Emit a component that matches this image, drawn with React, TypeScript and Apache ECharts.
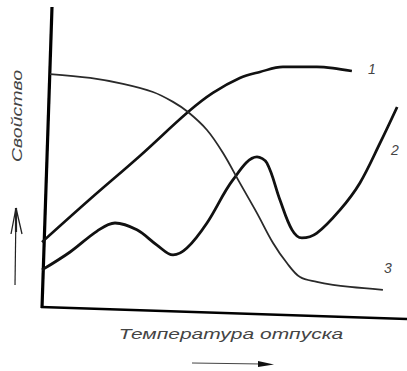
import React, { useEffect, useRef } from "react";
import * as echarts from "echarts";

// Qualitative chart: property vs. tempering temperature (arbitrary units 0..100)
const curve1X = [0, 13.2, 26.8, 40, 46.8, 54.2, 59.7, 66, 75.3, 79.7, 84.9];
const curve1Y = [21.7, 36.1, 50.5, 65.2, 71.6, 76.6, 78.6, 80.3, 80.3, 79.9, 78.9];

const curve2X = [0, 7.7, 15.1, 20, 26, 31.5, 35.9, 39.7, 45.2, 52.3, 58.9, 61.6, 65.2, 68.5, 71.2, 75.3, 81.6, 87.1, 92.6, 97.3];
const curve2Y = [12.4, 18.4, 25.4, 28.1, 25.8, 20.7, 17.4, 19.7, 28.1, 42.5, 50.2, 48.2, 35.8, 25.8, 23.1, 24.7, 32.4, 41.5, 54.8, 66.9];

const curve3X = [2.2, 13.2, 22.2, 30.4, 35.9, 40, 45.2, 49.6, 54.2, 58.9, 63.3, 67.1, 70.7, 75.3, 79.7, 84.4, 93.4];
const curve3Y = [77.9, 76.6, 74.6, 71.9, 68.6, 65.2, 59.2, 51.5, 41.5, 31.4, 21.4, 14.7, 10, 8.4, 7.4, 6.7, 5.7];

const curveLabels = ["1", "2", "3"];
const xTitle = "Температура отпуска";
const yTitle = "Свойство";

const zip = (xs: number[], ys: number[]) => xs.map((x, i) => [x, ys[i]]);

export default function App() {
  const ref = useRef<HTMLDivElement>(null);
  useEffect(() => {
    if (!ref.current) return;
    const chart = echarts.init(ref.current, undefined, { renderer: "svg" });
    const font = "'Liberation Sans', Arial, sans-serif";
    const textGray = "#444444";
    chart.setOption({
      animation: false,
      backgroundColor: "#ffffff",
      grid: { left: 42, top: 8, width: 365, height: 299 },
      xAxis: { type: "value", min: 0, max: 100, show: false },
      yAxis: { type: "value", min: 0, max: 100, show: false },
      series: [
        {
          type: "line",
          data: zip(curve1X, curve1Y),
          smooth: 0.35,
          symbol: "none",
          lineStyle: { color: "#111", width: 2.6 },
        },
        {
          type: "line",
          data: zip(curve2X, curve2Y),
          smooth: 0.35,
          symbol: "none",
          lineStyle: { color: "#111", width: 2.8 },
        },
        {
          type: "line",
          data: zip(curve3X, curve3Y),
          smooth: 0.35,
          symbol: "none",
          lineStyle: { color: "#2a2a2a", width: 1.8 },
        },
      ],
      graphic: [
        // axes (hand-drawn, slightly slanted)
        { type: "line", shape: { x1: 52, y1: 7, x2: 42, y2: 308 }, style: { stroke: "#000", lineWidth: 3.2 } },
        { type: "line", shape: { x1: 41, y1: 307, x2: 407, y2: 319 }, style: { stroke: "#000", lineWidth: 2.6 } },
        // up arrow
        { type: "line", shape: { x1: 15, y1: 285, x2: 16, y2: 210 }, style: { stroke: "#222", lineWidth: 1.2 } },
        { type: "polyline", shape: { points: [[11, 234], [16, 208], [22, 234]] }, style: { stroke: "#222", lineWidth: 1.3, fill: null } },
        { type: "line", shape: { x1: 16, y1: 208, x2: 16, y2: 232 }, style: { stroke: "#222", lineWidth: 2.2 } },
        // right arrow
        { type: "line", shape: { x1: 192, y1: 363, x2: 262, y2: 364 }, style: { stroke: "#444", lineWidth: 1 } },
        { type: "polygon", shape: { points: [[258, 361], [274, 364.5], [258, 367]] }, style: { fill: "#111" } },
        // titles
        {
          type: "text",
          x: 17,
          y: 116,
          rotation: Math.PI / 2,
          scaleX: 1.3,
          style: {
            text: yTitle,
            font: `italic 15px ${font}`,
            fill: textGray,
            textAlign: "center",
            textVerticalAlign: "middle",
          },
        },
        {
          type: "text",
          x: 231,
          y: 334,
          scaleX: 1.4,
          style: {
            text: xTitle,
            font: `italic 15px ${font}`,
            fill: textGray,
            textAlign: "center",
            textVerticalAlign: "middle",
          },
        },
        // curve numbers
        { type: "text", x: 372, y: 69, style: { text: curveLabels[0], font: `italic 14px ${font}`, fill: textGray, textAlign: "center", textVerticalAlign: "middle" } },
        { type: "text", x: 395, y: 150, style: { text: curveLabels[1], font: `italic 14px ${font}`, fill: textGray, textAlign: "center", textVerticalAlign: "middle" } },
        { type: "text", x: 388, y: 268, style: { text: curveLabels[2], font: `italic 14px ${font}`, fill: textGray, textAlign: "center", textVerticalAlign: "middle" } },
      ],
    });
    return () => chart.dispose();
  }, []);
  return (
    <div
      ref={ref}
      style={{ position: "fixed", left: 0, top: 0, width: 407, height: 371, background: "#fff" }}
    />
  );
}
